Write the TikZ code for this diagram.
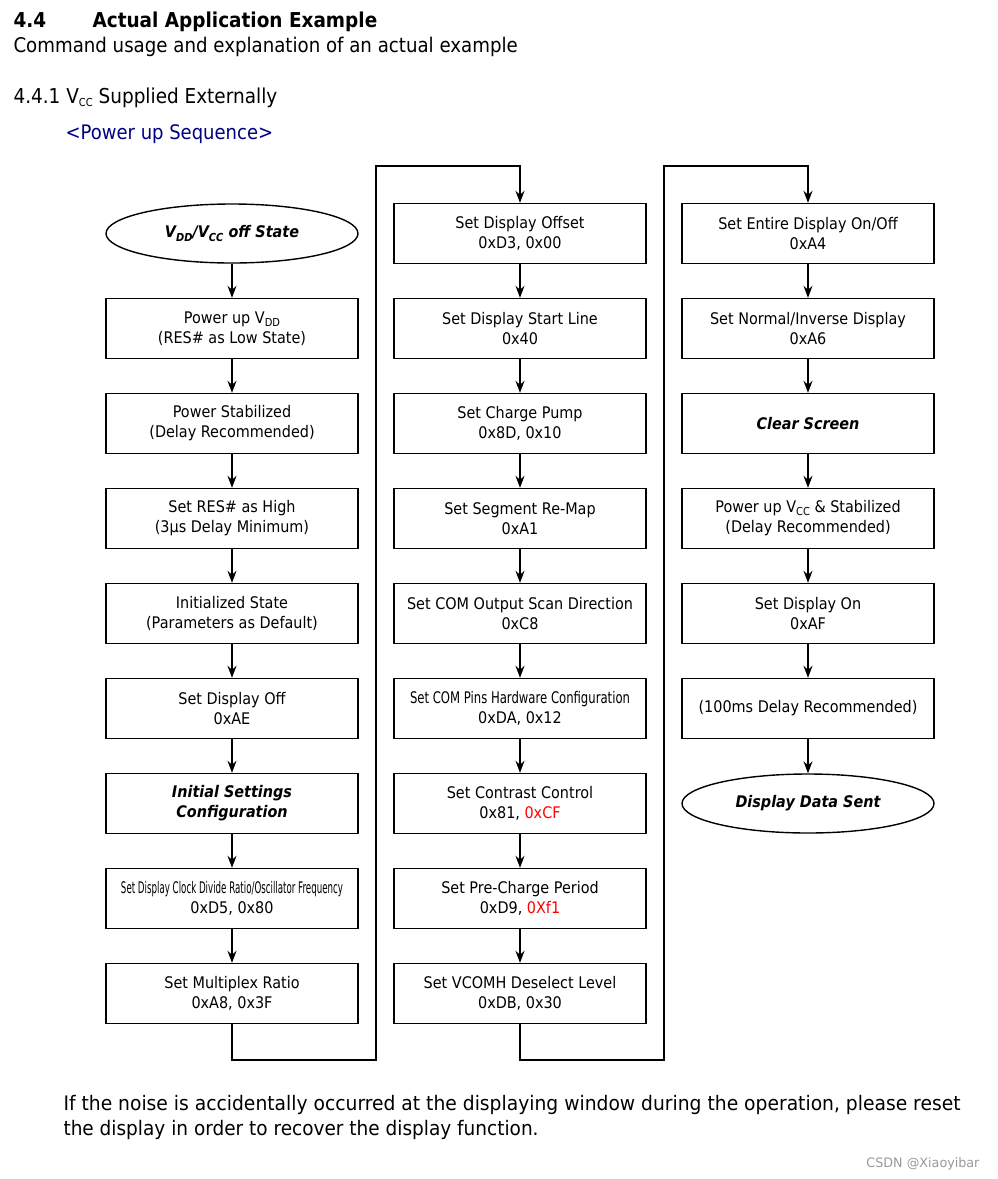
\documentclass[tikz,border=0pt]{standalone}
\usepackage{fontspec}
\setmainfont{DejaVu Sans}[FakeStretch=0.9]
\usepackage{graphicx}
\usetikzlibrary{arrows.meta}
\usetikzlibrary{shapes.geometric}
\definecolor{seqblue}{RGB}{0,0,128}
\newcommand{\lowtxt}[1]{\raisebox{-0.35ex}{\fontsize{11}{11}\selectfont #1}}
\newcommand{\squeeze}[2]{\resizebox{#1}{\height}{#2}}

\begin{document}
\begin{tikzpicture}[x=1pt,y=-1pt,
        norm/.style={draw=black,rectangle,line width=1.4pt,minimum width=252pt,minimum height=60pt,inner sep=0pt,align=center,font=\fontsize{16}{20}\selectfont},
        term/.style={draw=black,ellipse,line width=1.4pt,minimum width=252pt,minimum height=59pt,inner sep=0pt,align=center,font=\fontsize{16}{20}\selectfont\bfseries\itshape},
        flow/.style={line width=1.4pt,-{Stealth[length=12pt,width=9pt,inset=4pt]}}
      ]
      \useasboundingbox (0,0) rectangle (998,1179);
      \node[anchor=base west] (secnum) at (10,27) {\fontsize{20.5}{21}\selectfont\bfseries 4.4};
      \node[anchor=base west] (sectitle) at (89,27) {\fontsize{20.5}{21}\selectfont\bfseries Actual Application Example};
      \node[anchor=base west] (intro) at (10,52) {\fontsize{20.2}{20}\selectfont Command usage and explanation of an actual example};
      \node[anchor=base west] (subsec) at (10,103) {\fontsize{20.5}{20}\selectfont 4.4.1 V\lowtxt{CC} Supplied Externally};
      \node[anchor=base west,text=seqblue] (seqtitle) at (62,139) {\fontsize{20}{20}\selectfont <Power up Sequence>};

      \node[term] (s0) at (232,233.5) {V\lowtxt{DD}/V\lowtxt{CC} off State};
      \node[norm] (s1) at (232,328.5) {Power up V\lowtxt{DD}\\(RES\# as Low State)};
      \node[norm] (s2) at (232,423.5) {Power Stabilized\\(Delay Recommended)};
      \node[norm] (s3) at (232,518.5) {Set RES\# as High\\(3μs Delay Minimum)};
      \node[norm] (s4) at (232,613.5) {Initialized State\\(Parameters as Default)};
      \node[norm] (s5) at (232,708.5) {Set Display Off\\0xAE};
      \node[norm,font=\fontsize{16}{20}\selectfont\bfseries\itshape] (s6) at (232,803.5) {Initial Settings\\Configuration};
      \node[norm] (s7) at (232,898.5) {\squeeze{222pt}{\fontsize{16}{16}\selectfont Set Display Clock Divide Ratio/Oscillator Frequency}\\0xD5, 0x80};
      \node[norm] (s8) at (232,993.5) {Set Multiplex Ratio\\0xA8, 0x3F};

      \node[norm] (t1) at (520,233.5) {Set Display Offset\\0xD3, 0x00};
      \node[norm] (t2) at (520,328.5) {Set Display Start Line\\0x40};
      \node[norm] (t3) at (520,423.5) {Set Charge Pump\\0x8D, 0x10};
      \node[norm] (t4) at (520,518.5) {Set Segment Re-Map\\0xA1};
      \node[norm] (t5) at (520,613.5) {Set COM Output Scan Direction\\0xC8};
      \node[norm] (t6) at (520,708.5) {\squeeze{220pt}{\fontsize{16}{16}\selectfont Set COM Pins Hardware Configuration}\\0xDA, 0x12};
      \node[norm] (t7) at (520,803.5) {Set Contrast Control\\0x81, \textcolor{red}{0xCF}};
      \node[norm] (t8) at (520,898.5) {Set Pre-Charge Period\\0xD9, \textcolor{red}{0Xf1}};
      \node[norm] (t9) at (520,993.5) {Set VCOMH Deselect Level\\0xDB, 0x30};

      \node[norm] (u1) at (808,233.5) {Set Entire Display On/Off\\0xA4};
      \node[norm] (u2) at (808,328.5) {Set Normal/Inverse Display\\0xA6};
      \node[norm,font=\fontsize{16}{20}\selectfont\bfseries\itshape] (u3) at (808,423.5) {Clear Screen};
      \node[norm] (u4) at (808,518.5) {Power up V\lowtxt{CC} \& Stabilized\\(Delay Recommended)};
      \node[norm] (u5) at (808,613.5) {Set Display On\\0xAF};
      \node[norm] (u6) at (808,708.5) {(100ms Delay Recommended)};
      \node[term] (u7) at (808,803.5) {Display Data Sent};

      \foreach \a/\b in {s0/s1,s1/s2,s2/s3,s3/s4,s4/s5,s5/s6,s6/s7,s7/s8,
                         t1/t2,t2/t3,t3/t4,t4/t5,t5/t6,t6/t7,t7/t8,t8/t9,
                         u1/u2,u2/u3,u3/u4,u4/u5,u5/u6,u6/u7}
        \draw[flow] (\a) -- (\b);

      \coordinate (j1) at (376,1060);
      \coordinate (k1) at (376,166);
      \coordinate (j2) at (664,1060);
      \coordinate (k2) at (664,166);
      \draw[flow] (s8.south) |- (j1) -- (k1) -| (t1.north);
      \draw[flow] (t9.south) |- (j2) -- (k2) -| (u1.north);

      \node[anchor=base west] (note1) at (60,1110) {\squeeze{897pt}{\fontsize{20}{20}\selectfont If the noise is accidentally occurred at the displaying window during the operation, please reset}};
      \node[anchor=base west] (note2) at (60,1135) {\squeeze{475pt}{\fontsize{20}{20}\selectfont the display in order to recover the display function.}};
      \node[anchor=base east,text=black!40] (mark) at (983,1167) {\squeeze{113pt}{\fontsize{13}{13}\selectfont CSDN @Xiaoyibar}};
    \end{tikzpicture}
\end{document}
